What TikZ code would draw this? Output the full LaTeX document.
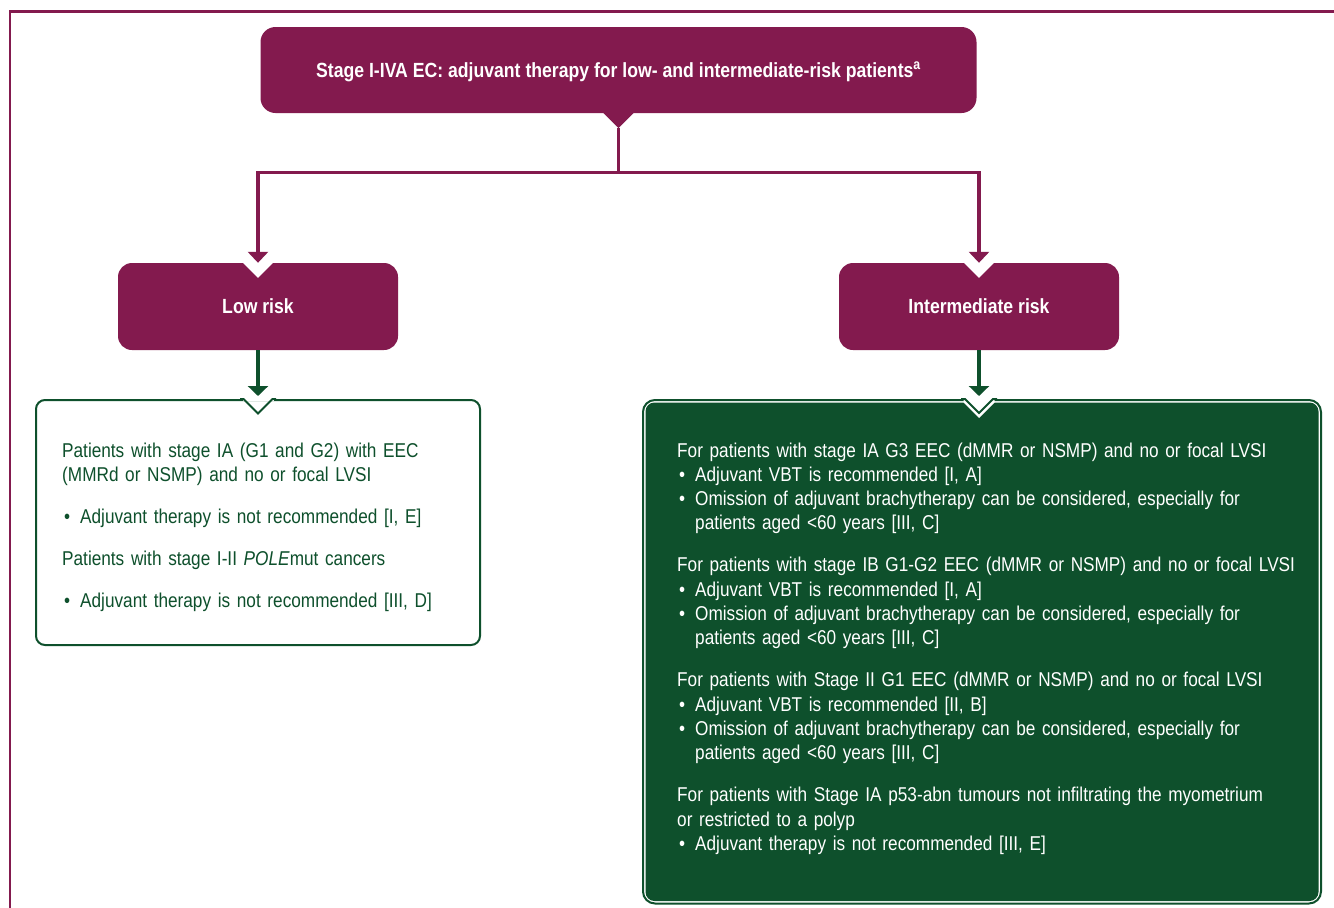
\documentclass[tikz,border=0pt]{standalone}
\usepackage{fontspec}
\setmainfont{Liberation Sans}[FakeStretch=0.86]
\usetikzlibrary{arrows.meta}
\definecolor{esmoP}{RGB}{131,26,78}
\definecolor{esmoG}{RGB}{14,80,44}
\newcommand\blt{\hspace*{2pt}\makebox[16pt][l]{\textbullet}}
\tikzset{
  pbox/.style={fill=esmoP, rounded corners=14pt, text=white, inner sep=0pt,
    text height=14pt, text depth=0pt,
    font=\bfseries\fontsize{20.5}{24}\selectfont},
  gbox/.style={draw=esmoG, line width=2pt, fill=white, rounded corners=9pt, inner sep=0pt},
  pline/.style={draw=esmoP, line width=3.2pt},
  gline/.style={draw=esmoG, line width=3.2pt},
  parr/.style={pline, -{Triangle[width=20pt,length=11pt]}},
  garr/.style={gline, -{Triangle[width=20pt,length=10pt]}},
  txt/.style={align=left, inner sep=0pt, font=\fontsize{20}{24.3}\selectfont},
}
\begin{document}
\begin{tikzpicture}[x=1pt,y=-1pt]
\useasboundingbox (0,0) rectangle (1334,908);
\fill[white] (0,0) rectangle (1334,908);
% frame
\draw[esmoP, line width=2.5pt] (10,908) -- (10,11.5) -- (1334,11.5);
% top box
\node[pbox, minimum width=716pt, minimum height=86pt, rounded corners=15pt] (top) at (618.5,70)
  {Stage I-IVA EC: adjuvant therapy for low- and intermediate-risk patients\textsuperscript{a}};
\fill[esmoP] ([shift={(-16pt,1pt)}]top.south) -- ([shift={(16pt,1pt)}]top.south)
  -- ([yshift=-15pt]top.south) coordinate (tip) -- cycle;
% risk boxes
\node[pbox, minimum width=280pt, minimum height=87pt] (low) at (258,306.5) {Low risk};
\node[pbox, minimum width=280pt, minimum height=87pt] (inter) at (979,306.5) {Intermediate risk};
\fill[white] ([shift={(-16pt,1pt)}]low.north) -- ([shift={(16pt,1pt)}]low.north) -- ([yshift=-15pt]low.north) -- cycle;
\fill[white] ([shift={(-16pt,1pt)}]inter.north) -- ([shift={(16pt,1pt)}]inter.north) -- ([yshift=-15pt]inter.north) -- cycle;
% connectors
\path (tip) ++(0,44) coordinate (split);
\draw[pline] (tip) -- (split);
\draw[parr] (split) -| (low.north);
\draw[parr] (split) -| (inter.north);
% low content box
\node[gbox, minimum width=444pt, minimum height=245pt] (lowc) at (258,522.5) {};
\coordinate (nL) at (low |- lowc.north);
\fill[white] ([shift={(-15.5pt,2pt)}]nL) rectangle ([shift={(15.5pt,-2pt)}]nL);
\draw[esmoG, line width=2pt] ([xshift=-18pt]nL) -- ([xshift=-14.5pt]nL) -- ([yshift=-14.5pt]nL)
  -- ([xshift=14.5pt]nL) -- ([xshift=18pt]nL);
\draw[garr] (low.south) -- ([yshift=3pt]nL);
% intermediate content box
\node[gbox, minimum width=678pt, minimum height=503.5pt, rounded corners=12pt] (intc) at (982,651.75) {};
\fill[esmoG, rounded corners=9pt] ([shift={(3.5pt,-3.5pt)}]intc.north west) rectangle ([shift={(-3.5pt,3.5pt)}]intc.south east);
\coordinate (nI) at (inter |- intc.north);
\fill[white] ([shift={(-15.5pt,1.5pt)}]nI) -- ([shift={(15.5pt,1.5pt)}]nI) -- ([shift={(15.5pt,-3.5pt)}]nI)
  -- ([shift={(0pt,-19pt)}]nI) -- ([shift={(-15.5pt,-3.5pt)}]nI) -- cycle;
\draw[esmoG, line width=2pt] ([xshift=-18pt]nI) -- ([xshift=-14pt]nI) -- ([yshift=-14pt]nI)
  -- ([xshift=14pt]nI) -- ([xshift=18pt]nI);
\draw[garr] (inter.south) -- ([yshift=3pt]nI);
% texts
\node[txt, text=esmoG, text width=420pt, anchor=base west] (lowt) at (62,457)
 {Patients with stage IA (G1 and G2) with EEC\\
  (MMRd or NSMP) and no or focal LVSI\\[17.7pt]
  \blt Adjuvant therapy is not recommended [I, E]\\[17.7pt]
  Patients with stage I-II \textit{POLE}mut cancers\\[17.7pt]
  \blt Adjuvant therapy is not recommended [III, D]};
\node[txt, text=white, text width=640pt, anchor=base west] (intt) at (677,457)
 {For patients with stage IA G3 EEC (dMMR or NSMP) and no or focal LVSI\\
  \blt Adjuvant VBT is recommended [I, A]\\
  \blt Omission of adjuvant brachytherapy can be considered, especially for\\
  \hspace*{18pt}patients aged <60 years [III, C]\\[17.7pt]
  For patients with stage IB G1-G2 EEC (dMMR or NSMP) and no or focal LVSI\\
  \blt Adjuvant VBT is recommended [I, A]\\
  \blt Omission of adjuvant brachytherapy can be considered, especially for\\
  \hspace*{18pt}patients aged <60 years [III, C]\\[17.7pt]
  For patients with Stage II G1 EEC (dMMR or NSMP) and no or focal LVSI\\
  \blt Adjuvant VBT is recommended [II, B]\\
  \blt Omission of adjuvant brachytherapy can be considered, especially for\\
  \hspace*{18pt}patients aged <60 years [III, C]\\[17.7pt]
  For patients with Stage IA p53-abn tumours not infiltrating the myometrium\\
  or restricted to a polyp\\
  \blt Adjuvant therapy is not recommended [III, E]};
\end{tikzpicture}
\end{document}
